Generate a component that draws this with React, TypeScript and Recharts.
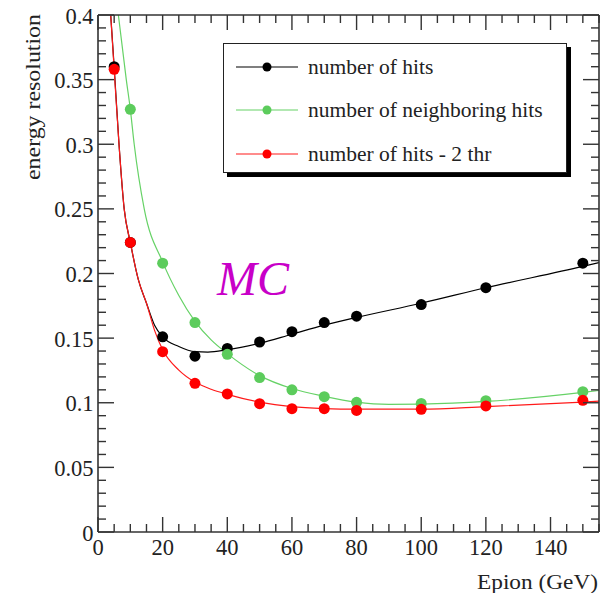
import React from 'react';
import { ComposedChart, Line, Scatter, XAxis, YAxis, Legend } from 'recharts';

// ---- data ----
const energies = [5, 10, 20, 30, 40, 50, 60, 70, 80, 100, 120, 150];
const hitsRes = [0.36, 0.224, 0.151, 0.136, 0.142, 0.147, 0.155, 0.162, 0.167, 0.176, 0.189, 0.208];
const neighborEnergies = [10, 20, 30, 40, 50, 60, 70, 80, 100, 120, 150];
const neighborRes = [0.327, 0.208, 0.162, 0.1375, 0.1195, 0.11, 0.1047, 0.1003, 0.0995, 0.1016, 0.1086];
const hits2thrRes = [0.358, 0.224, 0.1395, 0.115, 0.1068, 0.0993, 0.0954, 0.0954, 0.0941, 0.0949, 0.0975, 0.1019];

// fitted curves
const hitsFitE = [3.93, 5, 6.5, 8.1, 10, 12.5, 15, 17.5, 20, 25, 30, 34, 40, 50, 60, 70, 80, 100, 120, 150, 155];
const hitsFitRes = [0.4, 0.36, 0.3, 0.25, 0.224, 0.195, 0.177, 0.16, 0.151, 0.1435, 0.1395, 0.1392, 0.141, 0.146, 0.153, 0.16, 0.166, 0.177, 0.189, 0.2055, 0.2085];
const neighborFitE = [6.3, 8.75, 10, 11.2, 14.3, 20, 25, 30, 35, 40, 50, 60, 70, 80, 90, 100, 120, 150, 155];
const neighborFitRes = [0.4, 0.35, 0.327, 0.3, 0.25, 0.209, 0.183, 0.163, 0.1486, 0.138, 0.121, 0.111, 0.105, 0.1005, 0.0988, 0.099, 0.101, 0.108, 0.1095];
const hits2thrFitE = [3.93, 5, 6.5, 8.1, 10, 12.5, 15, 17.5, 20, 25, 30, 35, 40, 50, 60, 70, 80, 100, 120, 150, 155];
const hits2thrFitRes = [0.4, 0.358, 0.3, 0.25, 0.224, 0.195, 0.177, 0.156, 0.141, 0.1253, 0.116, 0.1104, 0.1065, 0.1005, 0.097, 0.0955, 0.095, 0.095, 0.097, 0.1005, 0.1012];

const seriesNames = ['number of hits', 'number of neighboring hits', 'number of hits - 2 thr'];
const seriesColors = ['#000000', '#5ccc5c', '#ff0000'];
const lineColors = ['#000000', '#66d266', '#ff1a1a'];

const xTicks = [0, 5, 10, 15, 20, 25, 30, 35, 40, 45, 50, 55, 60, 65, 70, 75, 80, 85, 90, 95, 100, 105, 110, 115, 120, 125, 130, 135, 140, 145, 150, 155];
const xMajorTicks = [0, 20, 40, 60, 80, 100, 120, 140];
const yTicks = [
  0, 0.01, 0.02, 0.03, 0.04, 0.05, 0.06, 0.07, 0.08, 0.09,
  0.1, 0.11, 0.12, 0.13, 0.14, 0.15, 0.16, 0.17, 0.18, 0.19,
  0.2, 0.21, 0.22, 0.23, 0.24, 0.25, 0.26, 0.27, 0.28, 0.29,
  0.3, 0.31, 0.32, 0.33, 0.34, 0.35, 0.36, 0.37, 0.38, 0.39, 0.4,
];
const yMajorTicks = [0, 0.05, 0.1, 0.15, 0.2, 0.25, 0.3, 0.35, 0.4];
const yMajorLabels = ['0', '0.05', '0.1', '0.15', '0.2', '0.25', '0.3', '0.35', '0.4'];

const xTitle = 'Epion (GeV)';
const yTitle = 'energy resolution';
const mcLabel = 'MC';

// ---- build series tables ----
const toPts = (xs: number[], ys: number[]) => xs.map((x, i) => ({ x, y: ys[i] }));
const hitsPts = toPts(energies, hitsRes);
const neighborPts = toPts(neighborEnergies, neighborRes);
const hits2thrPts = toPts(energies, hits2thrRes);
const hitsFit = toPts(hitsFitE, hitsFitRes);
const neighborFit = toPts(neighborFitE, neighborFitRes);
const hits2thrFit = toPts(hits2thrFitE, hits2thrFitRes);

const FONT = '"Liberation Serif", "Times New Roman", Times, serif';
const AX = '#333333';
const TXT = '#222222';
const TICK_FONT = 22.5;

const isXMajor = (v: number) => xMajorTicks.indexOf(v) >= 0;
const yMajorIndex = (v: number) => yMajorTicks.findIndex((m) => Math.abs(m - v) < 1e-6);

function BottomTick(props: any) {
  const { x, y, payload } = props;
  const v = payload.value;
  const major = isXMajor(v);
  return (
    <g>
      <line x1={x} y1={y} x2={x} y2={y - (major ? 15 : 8)} stroke={AX} strokeWidth={1.4} />
      {major && (
        <text x={x} y={y + 23} textAnchor="middle" fontFamily={FONT} fontSize={TICK_FONT} fill={TXT}>
          {String(v)}
        </text>
      )}
    </g>
  );
}

function TopTick(props: any) {
  const { x, y, payload } = props;
  const major = isXMajor(payload.value);
  return <line x1={x} y1={y} x2={x} y2={y + (major ? 15 : 8)} stroke={AX} strokeWidth={1.4} />;
}

function LeftTick(props: any) {
  const { x, y, payload } = props;
  const idx = yMajorIndex(payload.value);
  const major = idx >= 0;
  return (
    <g>
      <line x1={x} y1={y} x2={x + (major ? 16 : 8)} y2={y} stroke={AX} strokeWidth={1.4} />
      {major && (
        <text x={x - 4.5} y={y + 8.5} textAnchor="end" fontFamily={FONT} fontSize={TICK_FONT} fill={TXT}>
          {yMajorLabels[idx]}
        </text>
      )}
    </g>
  );
}

function RightTick(props: any) {
  const { x, y, payload } = props;
  const major = yMajorIndex(payload.value) >= 0;
  return <line x1={x} y1={y} x2={x - (major ? 16 : 8)} y2={y} stroke={AX} strokeWidth={1.4} />;
}

const markerShape = (color: string) => (props: any) =>
  <circle cx={props.cx} cy={props.cy} r={5.5} fill={color} />;

const rowTops = [8, 51, 95];

function LegendBox() {
  return (
    <div
      style={{
        position: 'relative',
        width: 344,
        height: 130,
        boxSizing: 'border-box',
        border: '1.5px solid #222',
        background: '#fff',
        boxShadow: '4px 4px 0 #000',
        fontFamily: FONT,
        fontSize: 21.5,
        color: TXT,
      }}
    >
      {seriesNames.map((name, i) => (
        <div
          key={name}
          style={{ position: 'absolute', left: 0, top: rowTops[i], height: 30, display: 'flex', alignItems: 'center', whiteSpace: 'nowrap' }}
        >
          <svg width={84} height={30} style={{ display: 'block' }}>
            <line x1={12} y1={15} x2={74} y2={15} stroke={lineColors[i]} strokeWidth={1.2} />
            <circle cx={43} cy={15} r={4.5} fill={seriesColors[i]} />
          </svg>
          <span style={{ lineHeight: '30px' }}>{name}</span>
        </div>
      ))}
    </div>
  );
}

export default function App() {
  return (
    <div style={{ position: 'absolute', left: 0, top: 0, background: '#fff' }}>
      <ComposedChart width={613} height={593} margin={{ top: 14, right: 13, bottom: 60, left: 97 }}>
        <XAxis
          dataKey="x"
          type="number"
          domain={[0, 155]}
          allowDataOverflow
          ticks={xTicks}
          interval={0}
          height={1}
          tickSize={0}
          tickMargin={0}
          tickLine={false}
          tick={<BottomTick />}
          axisLine={{ stroke: AX, strokeWidth: 1.6 }}
        />
        <XAxis
          xAxisId="top"
          orientation="top"
          dataKey="x"
          type="number"
          domain={[0, 155]}
          allowDataOverflow
          ticks={xTicks}
          interval={0}
          height={1}
          tickSize={0}
          tickMargin={0}
          tickLine={false}
          tick={<TopTick />}
          axisLine={{ stroke: AX, strokeWidth: 1.6 }}
        />
        <YAxis
          type="number"
          domain={[0, 0.4]}
          allowDataOverflow
          ticks={yTicks}
          interval={0}
          width={1}
          tickSize={0}
          tickMargin={0}
          tickLine={false}
          tick={<LeftTick />}
          axisLine={{ stroke: AX, strokeWidth: 1.6 }}
        />
        <YAxis
          yAxisId="right"
          orientation="right"
          type="number"
          domain={[0, 0.4]}
          allowDataOverflow
          ticks={yTicks}
          interval={0}
          width={1}
          tickSize={0}
          tickMargin={0}
          tickLine={false}
          tick={<RightTick />}
          axisLine={{ stroke: AX, strokeWidth: 1.6 }}
        />
        <Legend
          layout="horizontal"
          verticalAlign="middle"
          align="center"
          wrapperStyle={{ left: 223, top: 43, width: 344, height: 130 }}
          content={() => <LegendBox />}
        />

        <Line data={hitsFit} dataKey="y" type="monotone" stroke={lineColors[0]} strokeWidth={1.2} dot={false} isAnimationActive={false} />
        <Scatter data={hitsPts} dataKey="y" fill={seriesColors[0]} shape={markerShape(seriesColors[0])} isAnimationActive={false} />
        <Line data={neighborFit} dataKey="y" type="monotone" stroke={lineColors[1]} strokeWidth={1.2} dot={false} isAnimationActive={false} />
        <Scatter data={neighborPts} dataKey="y" fill={seriesColors[1]} shape={markerShape(seriesColors[1])} isAnimationActive={false} />
        <Line data={hits2thrFit} dataKey="y" type="monotone" stroke={lineColors[2]} strokeWidth={1.2} dot={false} isAnimationActive={false} />
        <Scatter data={hits2thrPts} dataKey="y" fill={seriesColors[2]} shape={markerShape(seriesColors[2])} isAnimationActive={false} />

        <text x={217} y={295} fontFamily={FONT} fontStyle="italic" fontSize={48} fill="#c800c8">
          {mcLabel}
        </text>
        <text x={477} y={589} fontFamily={FONT} fontSize={22} fill={TXT} textLength={121} lengthAdjust="spacingAndGlyphs">
          {xTitle}
        </text>
        <text
          transform="rotate(-90)"
          x={-180}
          y={40}
          fontFamily={FONT}
          fontSize={22}
          fill={TXT}
          textLength={166}
          lengthAdjust="spacingAndGlyphs"
        >
          {yTitle}
        </text>
      </ComposedChart>
    </div>
  );
}
